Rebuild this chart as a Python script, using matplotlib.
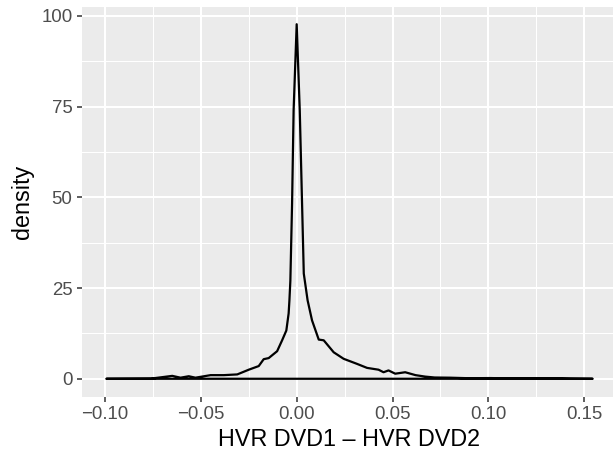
import matplotlib
matplotlib.use("Agg")
import matplotlib.pyplot as plt
from matplotlib.ticker import FixedLocator

# Density curve
diff_x = [-0.0993, -0.076, -0.0649, -0.0606, -0.0563, -0.0528, -0.0449, -0.038,
          -0.031, -0.025, -0.0198, -0.0172, -0.0146, -0.0102, -0.0076, -0.0054,
          -0.0042, -0.0038, -0.0033, -0.0024, -0.0016, 0.0, 0.0016, 0.0028,
          0.0037, 0.0057, 0.008, 0.0115, 0.0141, 0.0193, 0.0245, 0.0315, 0.0367,
          0.0427, 0.0453, 0.0479, 0.0514, 0.0566, 0.062, 0.067, 0.072, 0.08,
          0.09, 0.101, 0.111, 0.122, 0.132, 0.1425, 0.1544]
density = [0.0, 0.05, 0.8, 0.3, 0.7, 0.3, 1.0, 1.0,
           1.2, 2.5, 3.5, 5.4, 5.7, 7.6, 10.6, 13.3,
           18.0, 21.5, 27.0, 48.4, 74.0, 97.7, 74.0, 48.4,
           29.0, 21.6, 16.1, 10.8, 10.6, 7.3, 5.5, 4.1, 3.0,
           2.5, 1.8, 2.3, 1.4, 1.8, 1.0, 0.6, 0.35, 0.3,
           0.15, 0.2, 0.1, 0.1, 0.15, 0.05, 0.0]

x_ticks = [-0.10, -0.05, 0.00, 0.05, 0.10, 0.15]
x_tick_labels = ["\u22120.10", "\u22120.05", "0.00", "0.05", "0.10", "0.15"]
y_ticks = [0, 25, 50, 75, 100]
y_tick_labels = ["0", "25", "50", "75", "100"]
x_minor = [-0.125, -0.075, -0.025, 0.025, 0.075, 0.125]
y_minor = [12.5, 37.5, 62.5, 87.5]

plt.rcParams['font.family'] = ['Liberation Sans', 'DejaVu Sans']

W, H = 613, 455
fig = plt.figure(figsize=(W / 100, H / 100), dpi=100)
left, right, top, bottom = 82, 617, 6.5, 396.5
ax = fig.add_axes([left / W, 1 - bottom / H, (right - left) / W, (bottom - top) / H])
ax.set_facecolor("#EBEBEB")
for s in ax.spines.values():
    s.set_visible(False)

ax.fill(diff_x, density, facecolor="none", edgecolor="black", linewidth=1.6,
        joinstyle="round", zorder=3)

ax.margins(x=0.05, y=0.05)

ax.xaxis.set_major_locator(FixedLocator(x_ticks))
ax.set_xticklabels(x_tick_labels)
ax.yaxis.set_major_locator(FixedLocator(y_ticks))
ax.set_yticklabels(y_tick_labels)
ax.xaxis.set_minor_locator(FixedLocator(x_minor))
ax.yaxis.set_minor_locator(FixedLocator(y_minor))

ax.grid(which="major", color="white", linewidth=1.5, zorder=1)
ax.grid(which="minor", color="white", linewidth=0.75, zorder=1)
ax.set_axisbelow(True)

ax.tick_params(which="major", length=3.8, width=1.1, color="#333333",
               labelcolor="#4D4D4D", labelsize=13.4, pad=3)
ax.tick_params(which="minor", length=0)

ax.set_xlabel("HVR DVD1 \u2013 HVR DVD2", fontsize=16.8, color="black", labelpad=4)
ax.set_ylabel("density", fontsize=16.8, color="black", labelpad=5)

fig.savefig("out.png", dpi=100)
